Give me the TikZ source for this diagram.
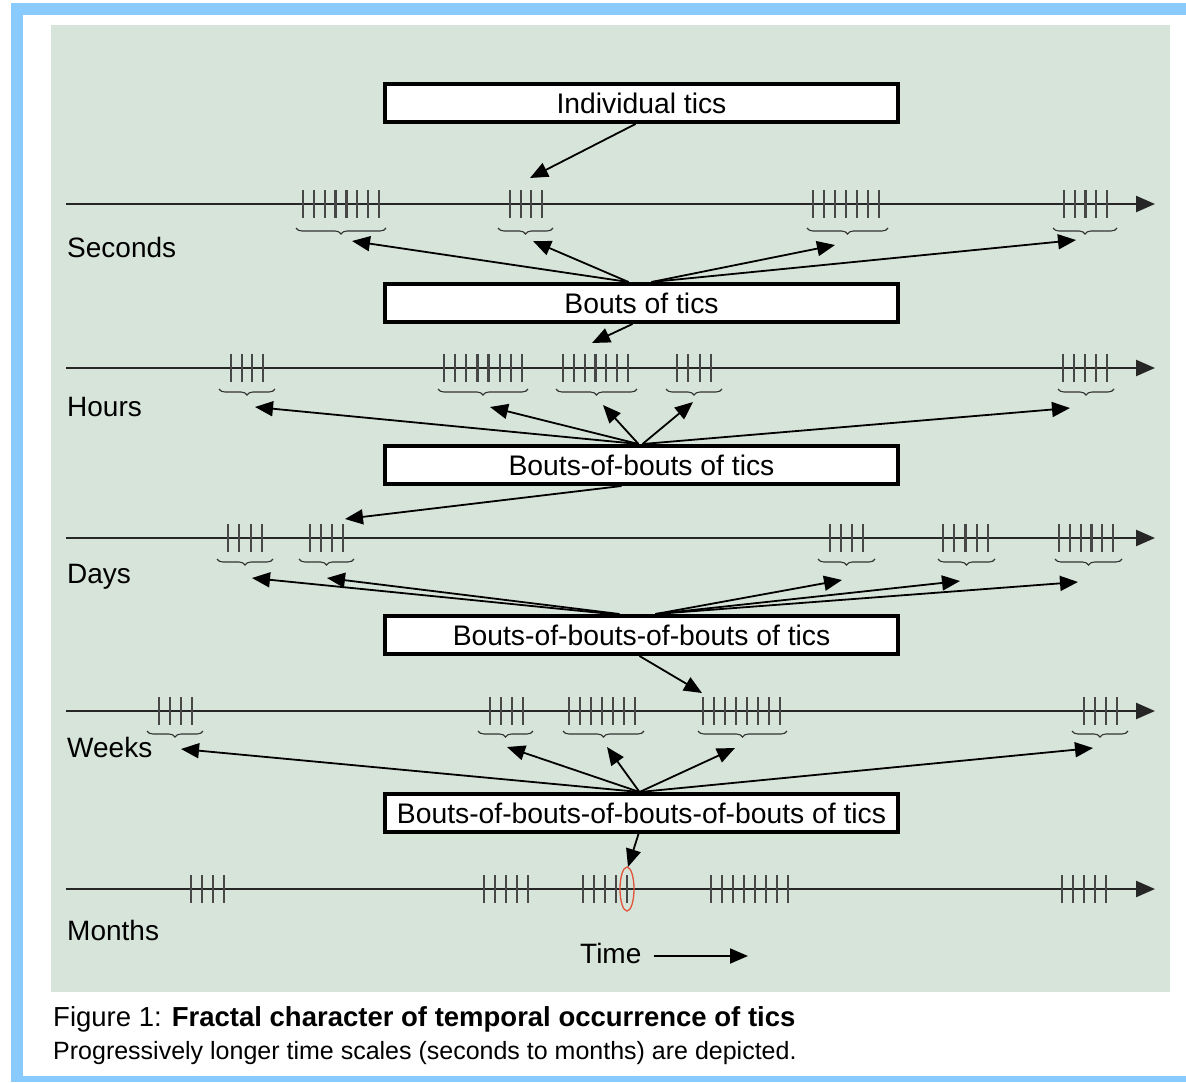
\documentclass[tikz,border=0pt]{standalone}
\usepackage{fontspec}
\setmainfont{Liberation Sans}
\usetikzlibrary{arrows.meta,decorations.pathreplacing,calc,shapes.geometric}
\definecolor{panel}{HTML}{D7E4D9}
\definecolor{frameblue}{HTML}{8ACBFF}
\definecolor{ticred}{HTML}{E0543C}
\newcommand\ticgroup[4]{% y, first x, last x, count
  \foreach \i in {1,...,#4}{\draw[tic] ({#2+(\i-1)*(#3-#2)/(#4-1)},{#1-14}) -- ++(0,28);}}
\newcommand\bracegroup[3]{\draw[brc] (#1,#3) -- (#2,#3);}
\begin{document}
\begin{tikzpicture}[x=1pt,y=-1pt,
  tic/.style={line width=2.2pt,black!72},
  brc/.style={decorate,decoration={brace,mirror,amplitude=6pt},line width=1.1pt,black!80},
  timeline/.style={line width=2.4pt,black!85,-{Triangle[length=19pt,width=16pt]}},
  conn/.style={line width=1.8pt,black,-{Triangle[length=18pt,width=15pt]}},
  boxnode/.style={draw=black,fill=white,line width=4pt,minimum width=513pt,minimum height=38pt,inner sep=0pt,font=\fontsize{28.3}{30}\selectfont},
  scalelabel/.style={anchor=west,inner sep=0pt,font=\fontsize{28}{30}\selectfont}]
\useasboundingbox (0,0) rectangle (1186,1082);
\fill[white] (0,0) rectangle (1186,1082);
\fill[frameblue] (11,3) rectangle (1186,15);
\fill[frameblue] (11,3) rectangle (23,1082);
\fill[frameblue] (11,1076) rectangle (1186,1082);
\fill[panel] (51,25) rectangle (1170,992);

% boxes
\node[boxnode] (b1) at (641.5,103) {Individual tics};
\node[boxnode] (b2) at (641.5,303) {Bouts of tics};
\node[boxnode] (b3) at (641.5,465) {Bouts-of-bouts of tics};
\node[boxnode] (b4) at (641.5,635) {Bouts-of-bouts-of-bouts of tics};
\node[boxnode] (b5) at (641.5,813) {Bouts-of-bouts-of-bouts-of-bouts of tics};

% timelines
\coordinate (l1s) at (66,204); \coordinate (l1e) at (1155,204);
\coordinate (l2s) at (66,368); \coordinate (l2e) at (1155,368);
\coordinate (l3s) at (66,538); \coordinate (l3e) at (1155,538);
\coordinate (l4s) at (66,711); \coordinate (l4e) at (1155,711);
\coordinate (l5s) at (66,889); \coordinate (l5e) at (1155,889);
\foreach \k in {1,...,5}{\draw[timeline] (l\k s) -- (l\k e);}

% labels
\node[scalelabel] (lsec) at (67,247) {Seconds};
\node[scalelabel] (lhou) at (67,407) {Hours};
\node[scalelabel] (lday) at (67,577) {Days};
\node[scalelabel] (lwee) at (67,747) {Weeks};
\node[scalelabel] (lmon) at (67,930) {Months};

% seconds
\ticgroup{204}{303}{379}{8}\ticgroup{204}{510}{542}{4}\ticgroup{204}{813}{879}{7}\ticgroup{204}{1064}{1107}{5}
\bracegroup{296}{386}{228}\bracegroup{498}{553}{228}\bracegroup{807}{888}{228}\bracegroup{1053}{1117}{228}
% hours
\ticgroup{368}{231}{263}{4}\ticgroup{368}{444}{522}{8}\ticgroup{368}{563}{628}{7}\ticgroup{368}{677}{711}{4}\ticgroup{368}{1063}{1107}{5}
\bracegroup{219}{275}{389}\bracegroup{438}{528}{389}\bracegroup{556}{637}{389}\bracegroup{666}{722}{389}\bracegroup{1058}{1114}{389}
% days
\ticgroup{538}{228}{262}{4}\ticgroup{538}{310}{343}{4}\ticgroup{538}{830}{863}{4}\ticgroup{538}{943}{988}{5}\ticgroup{538}{1059}{1113}{6}
\bracegroup{217}{273}{559}\bracegroup{299}{354}{559}\bracegroup{818}{875}{559}\bracegroup{938}{995}{559}\bracegroup{1055}{1122}{559}
% weeks
\ticgroup{711}{159}{192}{4}\ticgroup{711}{490}{523}{4}\ticgroup{711}{569}{635}{7}\ticgroup{711}{703}{780}{8}\ticgroup{711}{1084}{1117}{4}
\bracegroup{147}{203}{731}\bracegroup{478}{533}{731}\bracegroup{563}{644}{731}\bracegroup{698}{787}{731}\bracegroup{1072}{1128}{731}
% months
\ticgroup{889}{191}{224}{4}\ticgroup{889}{484}{528}{5}\ticgroup{889}{583}{627}{5}\ticgroup{889}{711}{788}{8}\ticgroup{889}{1062}{1106}{5}
\node[draw=ticred,line width=1.3pt,ellipse,minimum width=14pt,minimum height=44pt,inner sep=0pt] (mark) at (627,889) {};

% arrow targets
\coordinate (t1) at (530,178);
\coordinate (s1) at (352,241); \coordinate (s2) at (533,241); \coordinate (s3) at (835,245); \coordinate (s4) at (1076,240);
\coordinate (t2) at (592,343);
\coordinate (h1) at (255,407); \coordinate (h2) at (490,407); \coordinate (h3) at (603,405); \coordinate (h4) at (693,402); \coordinate (h5) at (1070,408);
\coordinate (t3) at (345,519);
\coordinate (d1) at (252,578); \coordinate (d2) at (327,578); \coordinate (d3) at (842,580); \coordinate (d4) at (960,581); \coordinate (d5) at (1078,582);
\coordinate (t4) at (702,693);
\coordinate (w1) at (181,749); \coordinate (w2) at (507,747); \coordinate (w3) at (607,747); \coordinate (w4) at (735,748); \coordinate (w5) at (1093,748);
\coordinate (t5) at (628,867);

% connectors
\draw[conn] ($(b1.south)+(-6,0)$) -- (t1);
\draw[conn] ($(b2.north)+(-13,0)$) -- (s1);
\draw[conn] ($(b2.north)+(-13,0)$) -- (s2);
\draw[conn] ($(b2.north)+(10,0)$) -- (s3);
\draw[conn] ($(b2.north)+(10,0)$) -- (s4);
\draw[conn] ($(b2.south)+(-9,0)$) -- (t2);
\draw[conn] ($(b3.north)+(-3,0)$) -- (h1);
\draw[conn] ($(b3.north)+(-3,0)$) -- (h2);
\draw[conn] ($(b3.north)+(-3,0)$) -- (h3);
\draw[conn] ($(b3.north)+(1,0)$) -- (h4);
\draw[conn] ($(b3.north)+(1,0)$) -- (h5);
\draw[conn] ($(b3.south)+(-20,0)$) -- (t3);
\draw[conn] ($(b4.north)+(-30,0)$) -- (d1);
\draw[conn] ($(b4.north)+(-22,0)$) -- (d2);
\draw[conn] ($(b4.north)+(14,0)$) -- (d3);
\draw[conn] ($(b4.north)+(14,0)$) -- (d4);
\draw[conn] ($(b4.north)+(14,0)$) -- (d5);
\draw[conn] ($(b4.south)+(-2,0)$) -- (t4);
\draw[conn] ($(b5.north)+(-2,0)$) -- (w1);
\draw[conn] ($(b5.north)+(-2,0)$) -- (w2);
\draw[conn] ($(b5.north)+(-2,0)$) -- (w3);
\draw[conn] ($(b5.north)+(-2,0)$) -- (w4);
\draw[conn] ($(b5.north)+(-2,0)$) -- (w5);
\draw[conn] ($(b5.south)+(-3,0)$) -- (t5);

% time arrow
\node[anchor=west,inner sep=0pt,font=\fontsize{28}{30}\selectfont] (time) at (580,953) {Time};
\coordinate (timeend) at (748,956);
\draw[line width=1.8pt,black,-{Triangle[length=18pt,width=15pt]}] ($(time.east)+(12,3)$) -- (timeend);

% caption
\node[anchor=west,inner sep=0pt,font=\fontsize{27.5}{30}\selectfont] (cap1) at (53,1019) {Figure 1: \textbf{Fractal character of temporal occurrence of tics}};
\node[anchor=west,inner sep=0pt,font=\fontsize{25}{27}\selectfont] (cap2) at (53,1053) {Progressively longer time scales (seconds to months) are depicted.};
\end{tikzpicture}
\end{document}
